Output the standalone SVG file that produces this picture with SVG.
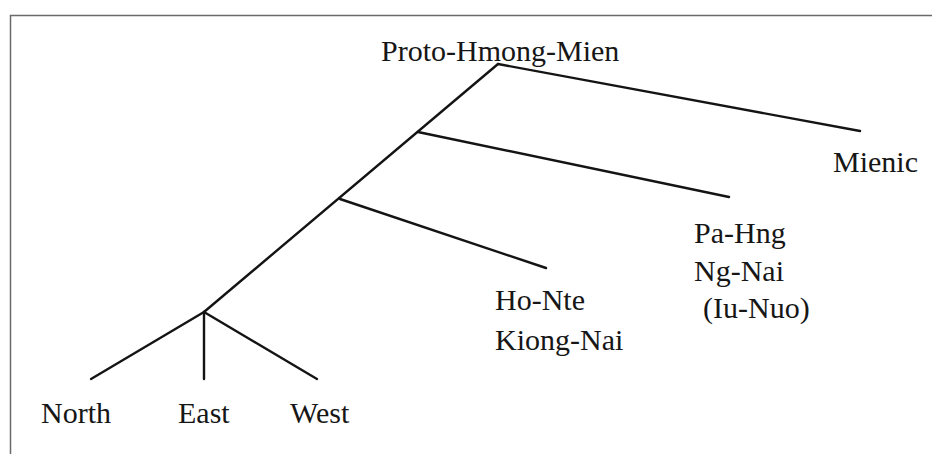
<svg xmlns="http://www.w3.org/2000/svg" width="932" height="454" viewBox="0 0 932 454">
  <style>
    .frame { fill: none; stroke: #6a6a6a; stroke-width: 1.5; }
    .edge { fill: none; stroke: #141414; stroke-width: 2.4; stroke-linecap: round; }
    .label { font-family: "Liberation Serif", "Times New Roman", serif; font-size: 30px; fill: #161616; }
  </style>
  <rect width="932" height="454" fill="#ffffff"/>
  <!-- page frame: top and left rules -->
  <path class="frame" d="M10.5,454 V15.5 H932"/>

  <!-- family tree branches -->
  <g id="connectors">
    <line class="edge" x1="498" y1="64" x2="860" y2="131"/>
    <line class="edge" x1="498" y1="64" x2="204" y2="312"/>
    <line class="edge" x1="418" y1="132" x2="729" y2="197"/>
    <line class="edge" x1="340" y1="199" x2="546" y2="268"/>
    <line class="edge" x1="204" y1="312" x2="91" y2="379"/>
    <line class="edge" x1="204" y1="312" x2="204" y2="379"/>
    <line class="edge" x1="204" y1="312" x2="317" y2="379"/>
  </g>

  <g id="proto-hmong-mien">
    <text class="label" x="381" y="61">Proto-Hmong-Mien</text>
  </g>
  <g id="mienic">
    <text class="label" x="833" y="172">Mienic</text>
  </g>
  <g id="pa-hng">
    <text class="label" x="694" y="243">Pa-Hng</text>
    <text class="label" x="694" y="281">Ng-Nai</text>
    <text class="label" x="703" y="318">(Iu-Nuo)</text>
  </g>
  <g id="ho-nte">
    <text class="label" x="495" y="310">Ho-Nte</text>
    <text class="label" x="495" y="350">Kiong-Nai</text>
  </g>
  <g id="north">
    <text class="label" x="41" y="423">North</text>
  </g>
  <g id="east">
    <text class="label" x="178" y="423">East</text>
  </g>
  <g id="west">
    <text class="label" x="290" y="423">West</text>
  </g>
</svg>
